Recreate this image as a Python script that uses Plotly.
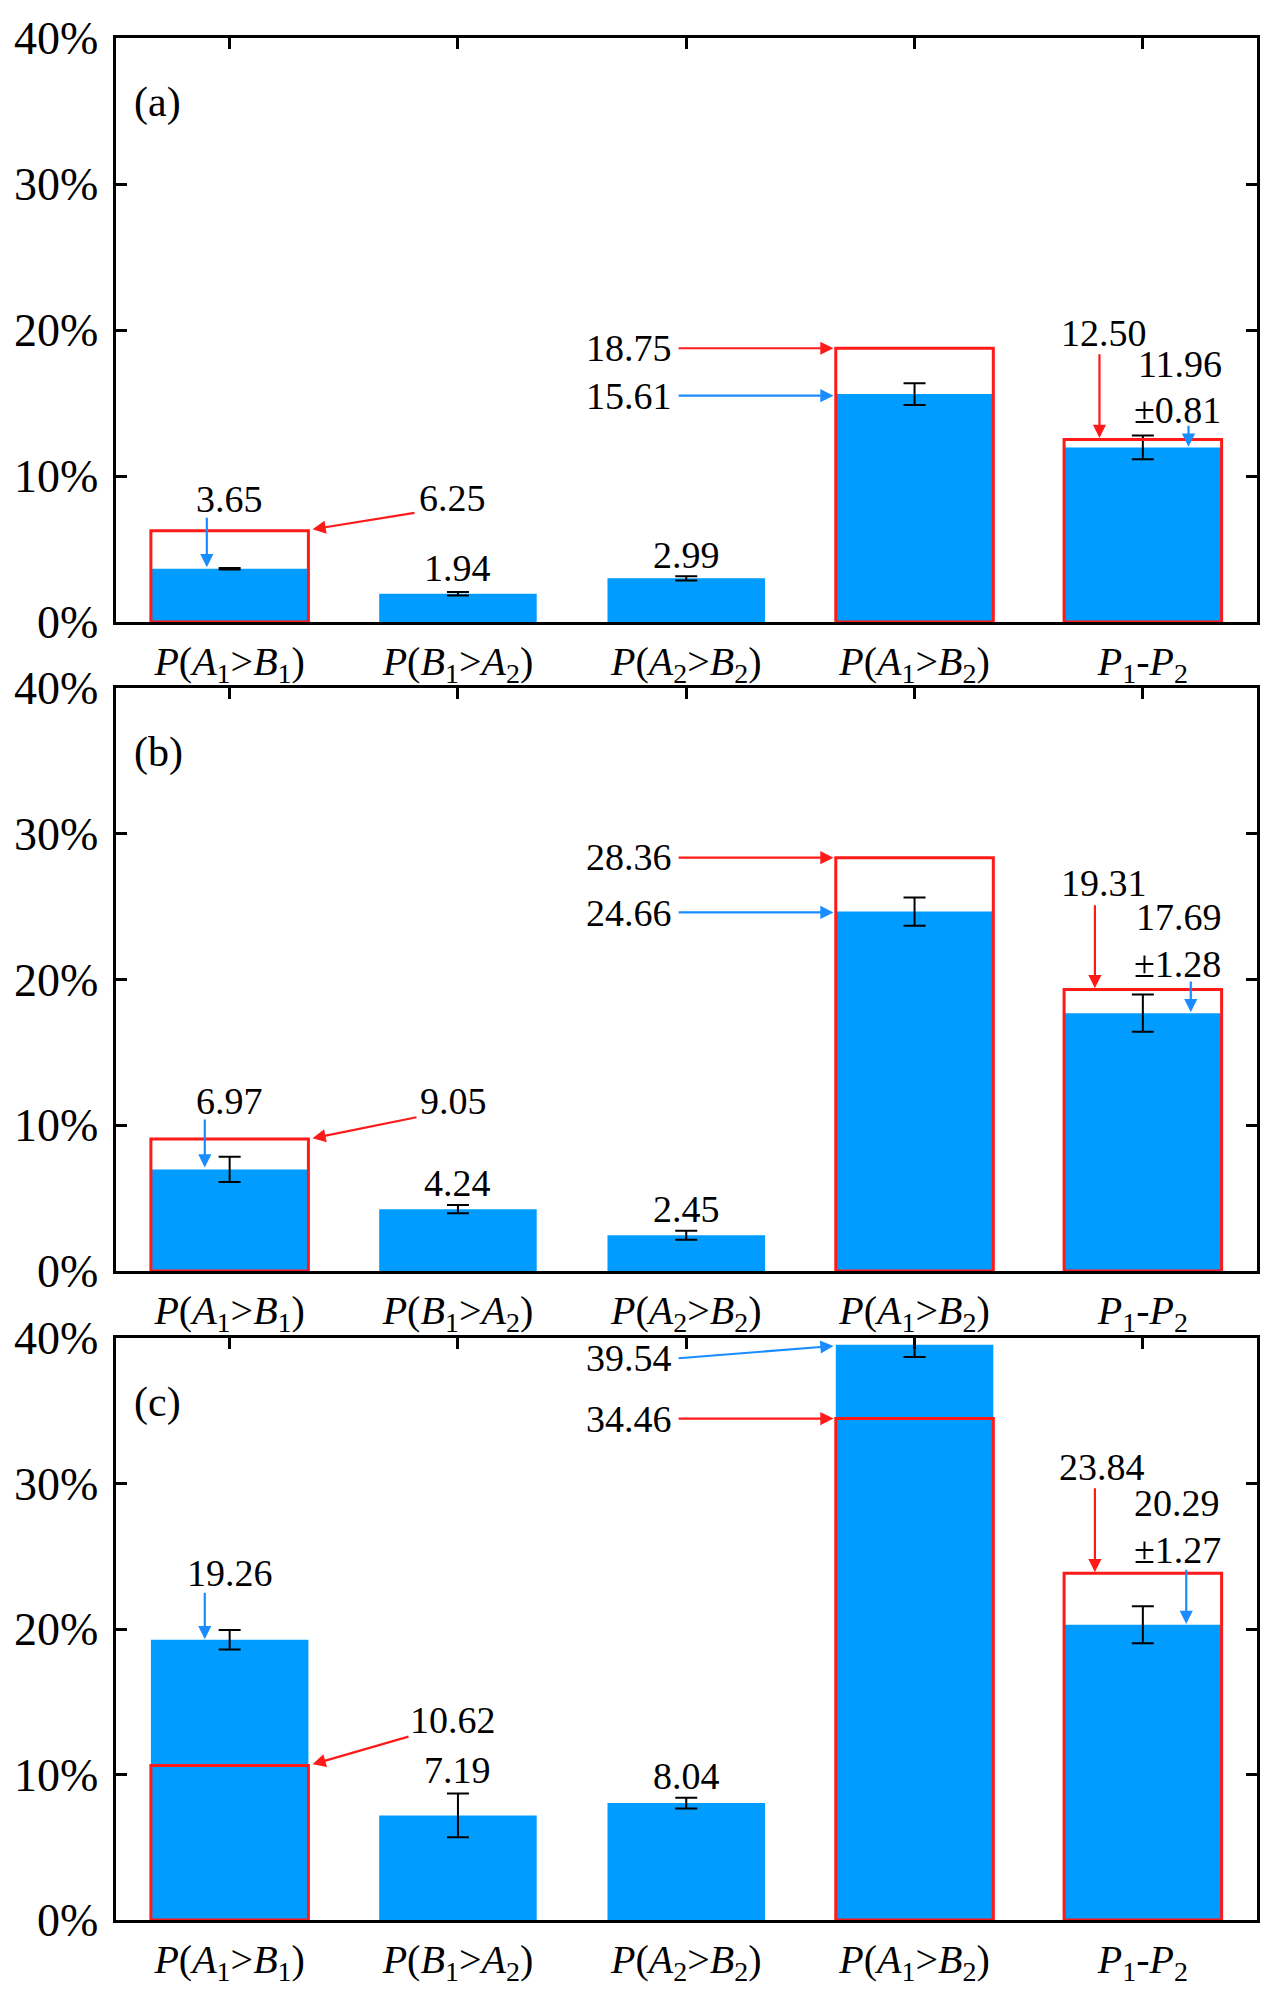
import plotly.graph_objects as go

# ---------------- data ----------------
cat_labels = [
    "<i>P</i>(<i>A</i><sub>1</sub>&gt;<i>B</i><sub>1</sub>)",
    "<i>P</i>(<i>B</i><sub>1</sub>&gt;<i>A</i><sub>2</sub>)",
    "<i>P</i>(<i>A</i><sub>2</sub>&gt;<i>B</i><sub>2</sub>)",
    "<i>P</i>(<i>A</i><sub>1</sub>&gt;<i>B</i><sub>2</sub>)",
    "<i>P</i><sub>1</sub>-<i>P</i><sub>2</sub>",
]
cat_pos = [0, 1, 2, 3, 4]
panel_names = ["(a)", "(b)", "(c)"]

measured_a = [3.65, 1.94, 2.99, 15.61, 11.96]
error_a = [0.05, 0.12, 0.15, 0.74, 0.81]
theory_a = [6.25, None, None, 18.75, 12.50]

measured_b = [6.97, 4.24, 2.45, 24.66, 17.69]
error_b = [0.87, 0.28, 0.31, 0.97, 1.28]
theory_b = [9.05, None, None, 28.36, 19.31]

measured_c = [19.26, 7.19, 8.04, 39.54, 20.29]
error_c = [0.67, 1.50, 0.37, 0.85, 1.27]
theory_c = [10.62, None, None, 34.46, 23.84]

y_ticks = [0, 10, 20, 30, 40]
y_tick_text = ["0%", "10%", "20%", "30%", "40%"]

# ---------------- styles ----------------
BLUE = "#009cff"
ARROW_BLUE = "#1a8cff"
RED = "#ff1a1a"
FONT = "'Times New Roman', 'Liberation Serif', serif"
W, H = 1280, 1991

x_dom = [115.5 / W, 1257 / W]
# pixel top/bottom of each panel's plotting area
panel_px = [(38, 622), (688, 1271), (1338, 1920)]

fig = go.Figure()

datasets = [
    (measured_a, error_a, theory_a),
    (measured_b, error_b, theory_b),
    (measured_c, error_c, theory_c),
]

for i, (m, e, t) in enumerate(datasets):
    xa = "x" if i == 0 else f"x{i+1}"
    ya = "y" if i == 0 else f"y{i+1}"
    fig.add_trace(go.Bar(
        x=cat_pos, y=m, width=0.69, xaxis=xa, yaxis=ya,
        marker=dict(color=BLUE, line=dict(width=0)),
        error_y=dict(type="data", array=e, color="black", thickness=2, width=11),
        showlegend=False, hoverinfo="skip",
    ))
    fig.add_trace(go.Bar(
        x=cat_pos, y=t, width=0.69, xaxis=xa, yaxis=ya,
        marker=dict(color="rgba(0,0,0,0)", line=dict(color=RED, width=3)),
        showlegend=False, hoverinfo="skip",
    ))

layout = dict(
    width=W, height=H, autosize=False,
    margin=dict(l=0, r=0, t=0, b=0, pad=0),
    paper_bgcolor="white", plot_bgcolor="white",
    barmode="overlay", showlegend=False,
    font=dict(family=FONT, color="black"),
)

for i, (top, bot) in enumerate(panel_px):
    n = "" if i == 0 else str(i + 1)
    y_dom = [1 - bot / H, 1 - top / H]
    layout[f"xaxis{n}"] = dict(
        domain=x_dom, anchor=f"y{n}", range=[-0.5, 4.5],
        tickvals=cat_pos, ticktext=cat_labels, ticks="",
        showline=True, linewidth=3, linecolor="black", mirror=True,
        showgrid=False, zeroline=False, automargin=False,
        tickfont=dict(family=FONT, size=40, color="black"),
        ticklabelstandoff=2,
    )
    layout[f"xaxis{i+4}"] = dict(
        overlaying=f"x{n}", anchor=f"y{n}", side="top", range=[-0.5, 4.5],
        tickvals=cat_pos, ticks="inside", ticklen=11, tickwidth=3, tickcolor="black",
        showticklabels=False, showline=False, showgrid=False, zeroline=False,
        automargin=False,
    )
    layout[f"yaxis{n}"] = dict(
        domain=y_dom, anchor=f"x{n}", range=[0, 40],
        tickvals=y_ticks, ticktext=y_tick_text, ticks="inside", ticklen=11, tickwidth=3,
        tickcolor="black", showline=True, linewidth=3, linecolor="black",
        mirror="ticks", showgrid=False, zeroline=False, automargin=False,
        tickfont=dict(family=FONT, size=46, color="black"),
        ticklabelstandoff=5,
    )

fig.update_layout(**layout)

# invisible helper traces so the top tick axes render
for i in range(3):
    n = "" if i == 0 else str(i + 1)
    fig.add_trace(go.Scatter(x=[None], y=[None], xaxis=f"x{i+4}", yaxis=f"y{n}",
                             mode="markers", showlegend=False, hoverinfo="skip"))

annotations = []


def txt(panel, text, x, y, xanchor="center"):
    n = "" if panel == 0 else str(panel + 1)
    annotations.append(dict(
        text=text, x=x, y=y, xref=f"x{n}", yref=f"y{n}", showarrow=False,
        xanchor=xanchor, yanchor="middle",
        font=dict(family=FONT, size=38, color="black"),
    ))


def arrow(panel, x0, y0, x1, y1, color):
    n = "" if panel == 0 else str(panel + 1)
    annotations.append(dict(
        text="", x=x1, y=y1, ax=x0, ay=y0, xref=f"x{n}", yref=f"y{n}",
        axref=f"x{n}", ayref=f"y{n}", showarrow=True, arrowhead=2,
        arrowsize=1.2, arrowwidth=2.2, arrowcolor=color, standoff=0, startstandoff=0,
    ))


def f2(v):
    return f"{v:.2f}"


# panel labels
for i, name in enumerate(panel_names):
    n = "" if i == 0 else str(i + 1)
    annotations.append(dict(
        text=name, x=0.0145, y=0.889, xref=f"x{n} domain", yref=f"y{n} domain",
        showarrow=False, xanchor="left", yanchor="middle",
        font=dict(family=FONT, size=42, color="black"),
    ))

# ---- panel (a)
m, e, t = datasets[0]
txt(0, f2(m[0]), 0, 8.45)
txt(0, f2(t[0]), 0.978, 8.5)
txt(0, f2(m[1]), 1, 3.7)
txt(0, f2(m[2]), 2, 4.6)
txt(0, f2(t[3]), 1.945, 18.75, "right")
txt(0, f2(m[3]), 1.945, 15.5, "right")
txt(0, f2(t[4]), 3.83, 19.8)
txt(0, f2(m[4]), 4.163, 17.7)
txt(0, "±" + f2(e[4]), 4.15, 14.5)
arrow(0, -0.1, 7.25, -0.1, 3.75, ARROW_BLUE)
arrow(0, 0.816, 7.49, 0.363, 6.35, RED)
arrow(0, 1.96, 18.75, 2.645, 18.75, RED)
arrow(0, 1.96, 15.5, 2.645, 15.5, ARROW_BLUE)
arrow(0, 3.81, 18.45, 3.81, 12.6, RED)
arrow(0, 4.20, 13.55, 4.20, 12.0, ARROW_BLUE)

# ---- panel (b)
m, e, t = datasets[1]
txt(1, f2(m[0]), 0, 11.65)
txt(1, f2(t[0]), 0.979, 11.65)
txt(1, f2(m[1]), 1, 6.03)
txt(1, f2(m[2]), 2, 4.24)
txt(1, f2(t[3]), 1.948, 28.4, "right")
txt(1, f2(m[3]), 1.948, 24.55, "right")
txt(1, f2(t[4]), 3.83, 26.6)
txt(1, f2(m[4]), 4.16, 24.3)
txt(1, "±" + f2(e[4]), 4.15, 21.07)
arrow(1, -0.109, 10.5, -0.109, 7.1, ARROW_BLUE)
arrow(1, 0.825, 10.57, 0.363, 9.1, RED)
arrow(1, 1.96, 28.36, 2.645, 28.36, RED)
arrow(1, 1.96, 24.6, 2.645, 24.6, ARROW_BLUE)
arrow(1, 3.79, 25.2, 3.79, 19.4, RED)
arrow(1, 4.21, 19.96, 4.21, 17.75, ARROW_BLUE)

# ---- panel (c)
m, e, t = datasets[2]
txt(2, f2(m[0]), 0, 23.87)
txt(2, f2(t[0]), 0.979, 13.73)
txt(2, f2(m[1]), 1, 10.28)
txt(2, f2(m[2]), 2, 9.93)
txt(2, f2(m[3]), 1.948, 38.63, "right")
txt(2, f2(t[3]), 1.948, 34.4, "right")
txt(2, f2(t[4]), 3.82, 31.1)
txt(2, f2(m[4]), 4.15, 28.63)
txt(2, "±" + f2(e[4]), 4.15, 25.4)
arrow(2, -0.109, 22.6, -0.109, 19.3, ARROW_BLUE)
arrow(2, 0.79, 12.63, 0.363, 10.7, RED)
arrow(2, 1.96, 38.6, 2.645, 39.45, ARROW_BLUE)
arrow(2, 1.96, 34.46, 2.645, 34.46, RED)
arrow(2, 3.79, 29.77, 3.79, 23.9, RED)
arrow(2, 4.19, 24.18, 4.19, 20.35, ARROW_BLUE)

fig.update_layout(annotations=annotations)

fig.write_html("out.html", include_plotlyjs=True,
               config={"displayModeBar": False},
               post_script="document.body.style.margin='0px';")
